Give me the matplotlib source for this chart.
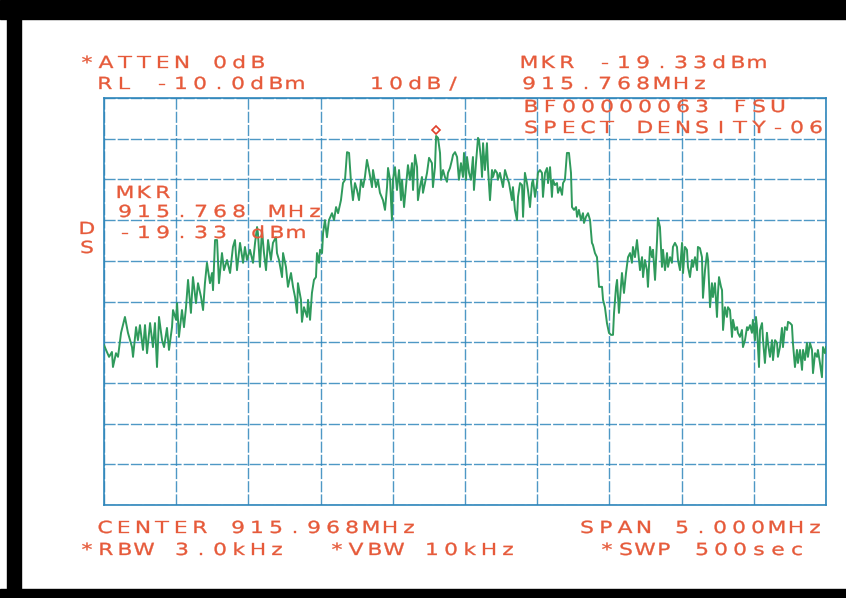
import numpy as np
import matplotlib
matplotlib.use("Agg")
import matplotlib.pyplot as plt
from matplotlib.transforms import offset_copy, Affine2D
from matplotlib.patheffects import AbstractPathEffect

# analyzer settings
center_mhz = 915.968
span_mhz = 5.0
ref_level = -10.0
db_per_div = 10.0
marker_mhz = 915.768
marker_dbm = -19.33

# swept trace (MHz, dBm)
trace_mhz = [
    913.468, 913.482, 913.503, 913.523, 913.530, 913.551, 913.565, 913.586, 913.613, 913.634,
    913.662, 913.669, 913.690, 913.703, 913.717, 913.738, 913.752, 913.766, 913.787, 913.807,
    913.821, 913.835, 913.849, 913.870, 913.884, 913.904, 913.918, 913.939, 913.946, 913.967,
    913.974, 913.987, 914.008, 914.022, 914.036, 914.050, 914.070, 914.084, 914.105, 914.119,
    914.140, 914.154, 914.167, 914.181, 914.202, 914.216, 914.223, 914.237, 914.251, 914.264,
    914.285, 914.299, 914.320, 914.341, 914.361, 914.375, 914.389,
    914.410, 914.431, 914.444, 914.458, 914.479, 914.500, 914.514, 914.528, 914.534, 914.548,
    914.562, 914.576, 914.590, 914.604, 914.624, 914.638, 914.659, 914.666, 914.680, 914.701,
    914.708, 914.728, 914.742, 914.763, 914.777, 914.791, 914.805, 914.811, 914.832, 914.839,
    914.853, 914.874, 914.881, 914.895, 914.908, 914.922, 914.936, 914.943, 914.957, 914.964,
    914.978, 914.985, 914.998, 915.012, 915.026, 915.047, 915.061, 915.075, 915.089, 915.109,
    915.123, 915.137, 915.151, 915.165, 915.179, 915.192, 915.206, 915.220, 915.234, 915.248,
    915.262, 915.275, 915.289, 915.303, 915.324, 915.331, 915.352, 915.365,
    915.379, 915.400, 915.414, 915.428, 915.435, 915.449, 915.462, 915.469, 915.483, 915.497,
    915.511, 915.525, 915.532, 915.546, 915.559, 915.573, 915.587, 915.601, 915.608, 915.622,
    915.636, 915.642, 915.656, 915.670, 915.677, 915.691, 915.705, 915.719, 915.739, 915.746,
    915.760, 915.768, 915.781, 915.795, 915.802, 915.816, 915.829, 915.843, 915.850, 915.864,
    915.878, 915.885, 915.899, 915.913, 915.926, 915.940, 915.954, 915.961, 915.975, 915.982,
    915.996, 916.009, 916.023, 916.030, 916.044, 916.058, 916.065, 916.079, 916.086, 916.093,
    916.106, 916.120, 916.127, 916.141, 916.155, 916.162, 916.176, 916.190, 916.196, 916.210,
    916.231, 916.245, 916.259, 916.273, 916.293, 916.300, 916.314, 916.328, 916.335,
    916.349, 916.363, 916.370, 916.383, 916.397, 916.404, 916.418, 916.432, 916.439, 916.453,
    916.467, 916.473, 916.487, 916.501, 916.508, 916.522, 916.536, 916.543, 916.557, 916.570,
    916.577, 916.591, 916.605, 916.612, 916.626, 916.640, 916.647, 916.660, 916.674, 916.688,
    916.702, 916.709, 916.723, 916.737, 916.744, 916.757, 916.771, 916.785, 916.792, 916.806,
    916.820, 916.834, 916.847, 916.854, 916.868, 916.882, 916.896, 916.917, 916.924, 916.937,
    916.951, 916.965, 916.979, 916.993, 917.000, 917.014, 917.021, 917.034, 917.055, 917.069,
    917.083, 917.097, 917.111, 917.124, 917.131, 917.145, 917.159, 917.166, 917.180, 917.194,
    917.201, 917.214, 917.228, 917.235, 917.249, 917.263, 917.270, 917.284, 917.298, 917.304,
    917.318,
    917.332, 917.339, 917.353, 917.367, 917.374, 917.388, 917.401, 917.408, 917.422, 917.436,
    917.443, 917.457, 917.471, 917.478, 917.491, 917.505, 917.512, 917.526, 917.540, 917.547,
    917.561, 917.575, 917.581, 917.595, 917.609, 917.616, 917.630, 917.644, 917.651, 917.665,
    917.678, 917.685, 917.699, 917.713, 917.720, 917.727, 917.741, 917.748, 917.755, 917.768,
    917.782, 917.789, 917.803, 917.817, 917.824, 917.838, 917.852, 917.858, 917.872, 917.886,
    917.893, 917.907, 917.921, 917.928, 917.942, 917.955, 917.962, 917.976, 917.983, 917.990,
    918.004, 918.011, 918.025, 918.032, 918.045, 918.059, 918.066, 918.080, 918.094, 918.101,
    918.115, 918.129, 918.135, 918.149, 918.163, 918.170, 918.184, 918.198, 918.205, 918.219,
    918.232, 918.239, 918.253, 918.267, 918.274, 918.288, 918.302, 918.309, 918.322, 918.336,
    918.343, 918.357, 918.371, 918.378, 918.392, 918.406, 918.412, 918.426, 918.440, 918.447,
    918.461, 918.468,
]
trace_dbm = [
    -70.7, -71.9, -73.6, -72.4, -76.1, -72.7, -73.6, -67.7, -63.8, -67.7,
    -71.2, -73.6, -66.3, -69.5, -65.8, -71.9, -65.8, -72.7, -65.3, -71.2,
    -65.3, -76.1, -63.8, -69.5, -71.2, -66.5, -71.9, -66.3, -62.1, -64.5,
    -60.4, -68.7, -62.1, -66.3, -61.4, -54.7, -62.8, -54.0, -60.4, -55.5,
    -58.9, -62.1, -55.5, -50.5, -55.5, -53.0, -57.2, -44.9, -44.9, -55.5,
    -48.1, -52.3, -49.8, -53.0, -46.6, -44.9, -52.3,
    -45.6, -50.5, -46.6, -49.8, -47.3, -50.5, -45.6, -41.7, -43.2, -51.5,
    -42.4, -48.1, -52.3, -44.9, -49.8, -45.6, -44.2, -48.1, -49.8, -54.0,
    -48.1, -51.5, -56.4, -53.0, -56.4, -58.9, -62.8, -55.5, -59.6, -65.0,
    -61.4, -63.8, -59.6, -64.5, -57.9, -54.7, -54.0, -48.1, -50.5, -47.3,
    -48.1, -43.2, -40.0, -44.2, -40.0, -38.3, -40.0, -36.8, -38.3, -35.1,
    -30.9, -30.1, -23.3, -23.5, -30.9, -35.1, -30.9, -32.6, -35.1, -30.1,
    -31.9, -29.4, -25.2, -27.7, -31.9, -27.7, -31.9, -30.1,
    -33.3, -35.1, -37.5, -31.9, -27.2, -30.1, -40.0, -30.1, -27.0, -32.6,
    -27.7, -35.1, -30.1, -36.8, -31.9, -26.5, -30.1, -26.0, -32.6, -24.0,
    -27.0, -35.1, -31.9, -29.4, -33.3, -30.9, -28.4, -24.7, -26.0, -31.9,
    -27.0, -19.33, -19.8, -23.5, -30.1, -27.7, -29.4, -30.6, -28.4, -27.2,
    -25.2, -24.0, -23.3, -24.5, -30.1, -26.0, -29.4, -23.5, -30.1, -24.5,
    -28.4, -30.1, -24.5, -32.6, -26.0, -19.8, -20.3, -25.2, -29.4, -21.1,
    -27.7, -21.1, -27.0, -35.1, -27.7, -29.4, -27.7, -28.4, -30.1, -28.4,
    -31.9, -27.7, -29.4, -30.9, -35.1, -31.9, -37.5, -40.0, -34.3,
    -30.9, -31.4, -39.2, -28.4, -30.9, -32.6, -36.8, -30.9, -30.1, -34.3,
    -30.9, -28.4, -27.7, -28.4, -34.3, -28.4, -27.2, -30.9, -27.0, -34.3,
    -30.1, -31.4, -30.9, -33.3, -31.9, -33.8, -30.9, -30.1, -23.5, -23.5,
    -28.4, -36.8, -37.5, -36.8, -39.2, -37.5, -40.0, -38.3, -40.7, -39.2,
    -38.3, -40.0, -45.6, -46.1, -48.1, -49.1, -56.4, -56.4, -59.6, -61.4,
    -65.3, -67.7, -68.2, -68.2, -62.8, -56.4, -54.7, -62.8, -53.0, -57.9,
    -53.0, -49.1, -48.1, -50.5, -46.6, -49.1, -44.9, -47.3, -52.3, -49.1,
    -54.0, -49.8, -52.3, -56.4, -46.6, -49.1, -47.3, -54.7, -44.9, -39.5,
    -41.7,
    -51.5, -47.3, -52.3, -48.1, -51.5, -49.1, -50.5, -46.6, -45.6, -46.6,
    -49.8, -52.3, -45.6, -53.0, -46.6, -47.3, -51.5, -54.0, -49.8, -51.5,
    -49.1, -52.3, -46.6, -46.9, -49.1, -59.1, -52.3, -48.1, -49.8, -61.4,
    -55.5, -58.9, -55.5, -63.8, -57.9, -54.0, -56.4, -57.2, -67.0, -61.4,
    -63.8, -61.4, -62.1, -68.7, -64.5, -67.0, -66.3, -67.7, -68.7, -67.0,
    -71.2, -69.5, -66.3, -67.0, -65.8, -67.7, -64.5, -69.5, -63.8, -66.3,
    -76.1, -67.0, -65.3, -69.5, -75.1, -67.7, -70.2, -73.6, -69.5, -74.4,
    -69.5, -70.2, -73.6, -71.2, -66.5, -71.2, -66.3, -67.0, -65.0, -65.3,
    -65.8, -70.2, -76.1, -71.9, -75.1, -71.9, -76.8, -71.9, -74.4, -70.2,
    -73.6, -70.2, -71.9, -77.6, -72.7, -73.6, -71.9, -75.1, -78.6, -71.2,
    -72.7, -71.2,
]

# screen annotations: (text, left edge px, baseline px)
header_lines = [
    ("*ATTEN 0dB", 80, 68),
    ("RL -10.0dBm", 98, 89),
    ("10dB/", 370, 89),
    ("MKR -19.33dBm", 522, 68),
    ("915.768MHz", 522, 89),
    ("BF00000063 FSU", 524, 112),
    ("SPECT DENSITY-06", 524, 133),
]
marker_lines = [
    ("MKR", 118, 198),
    ("915.768 MHz", 118, 217),
    ("-19.33 dBm", 118, 238),
    ("D", 80, 234),
    ("S", 80, 253),
]
footer_lines = [
    ("CENTER 915.968MHz", 98, 533),
    ("SPAN 5.000MHz", 580, 533),
    ("*RBW 3.0kHz", 80, 555),
    ("*VBW 10kHz", 330, 555),
    ("*SWP 500sec", 600, 555),
]

W, H = 846, 598
text_color = "#e65a3a"
grid_color = "#2f86bb"
trace_color = "#2f9a5c"


class WidePen(AbstractPathEffect):
    """Widen each glyph about its own centre and give it a pen-like stroke."""

    def __init__(self, sx=1.3, lw=0.25):
        super().__init__()
        self.sx = sx
        self.lw = lw

    def draw_path(self, renderer, gc, tpath, affine, rgbFace=None):
        bb = tpath.get_extents(affine)
        cx = 0.5 * (bb.x0 + bb.x1)
        aff = affine + Affine2D().translate(-cx, 0).scale(self.sx, 1).translate(cx, 0)
        gc0 = renderer.new_gc()
        gc0.copy_properties(gc)
        gc0.set_linewidth(self.lw)
        gc0.set_foreground(rgbFace)
        renderer.draw_path(gc0, tpath, aff, rgbFace)
        gc0.restore()


fig = plt.figure(figsize=(W / 100, H / 100), dpi=100)
fig.patch.set_facecolor("white")

# graticule: 10 x 10 divisions
ax = fig.add_axes([104 / W, (H - 505) / H, 722 / W, 407 / H])
f_start = center_mhz - span_mhz / 2
f_stop = center_mhz + span_mhz / 2
bottom = ref_level - 10 * db_per_div
ax.set_xlim(f_start, f_stop)
ax.set_ylim(bottom, ref_level)
ax.set_xticks(np.linspace(f_start, f_stop, 11))
ax.set_yticks(np.linspace(bottom, ref_level, 11))
ax.tick_params(length=0, labelbottom=False, labelleft=False)
ax.grid(True, color=grid_color, lw=1.0, ls=(0, (8, 1.5)), alpha=0.85)
for sp in ax.spines.values():
    sp.set_color(grid_color)
    sp.set_linewidth(1.2)

ax.plot(trace_mhz, trace_dbm, color=trace_color, lw=1.4, zorder=3)

# marker symbol sits just above the trace point
mk_trans = offset_copy(ax.transData, fig=fig, x=0, y=6, units="dots")
ax.plot([marker_mhz], [marker_dbm], marker="D", ms=4.5, mfc="none",
        mec="#e0402c", mew=1.2, transform=mk_trans, clip_on=False, zorder=4)

pen = [WidePen()]


def plotter_text(s, x, y, pitch=19):
    # fixed-pitch lettering like the pen plotter output
    for i, ch in enumerate(s):
        if ch == " ":
            continue
        fig.text((x + 7 + i * pitch) / W, 1 - y / H, ch, ha="center",
                 va="baseline", color=text_color, fontsize=12,
                 family="DejaVu Sans", path_effects=pen)


for s, x, y in header_lines + marker_lines + footer_lines:
    plotter_text(s, x, y)

# black scan border
for rect in [(0, 0, W, 19), (7, 0, 14, H), (0, 589, W, 9)]:
    x0, y0, w, h = rect
    fig.patches.append(plt.Rectangle((x0 / W, 1 - (y0 + h) / H), w / W, h / H,
                                     transform=fig.transFigure, color="black",
                                     zorder=5))

fig.savefig("out.png", dpi=100)
